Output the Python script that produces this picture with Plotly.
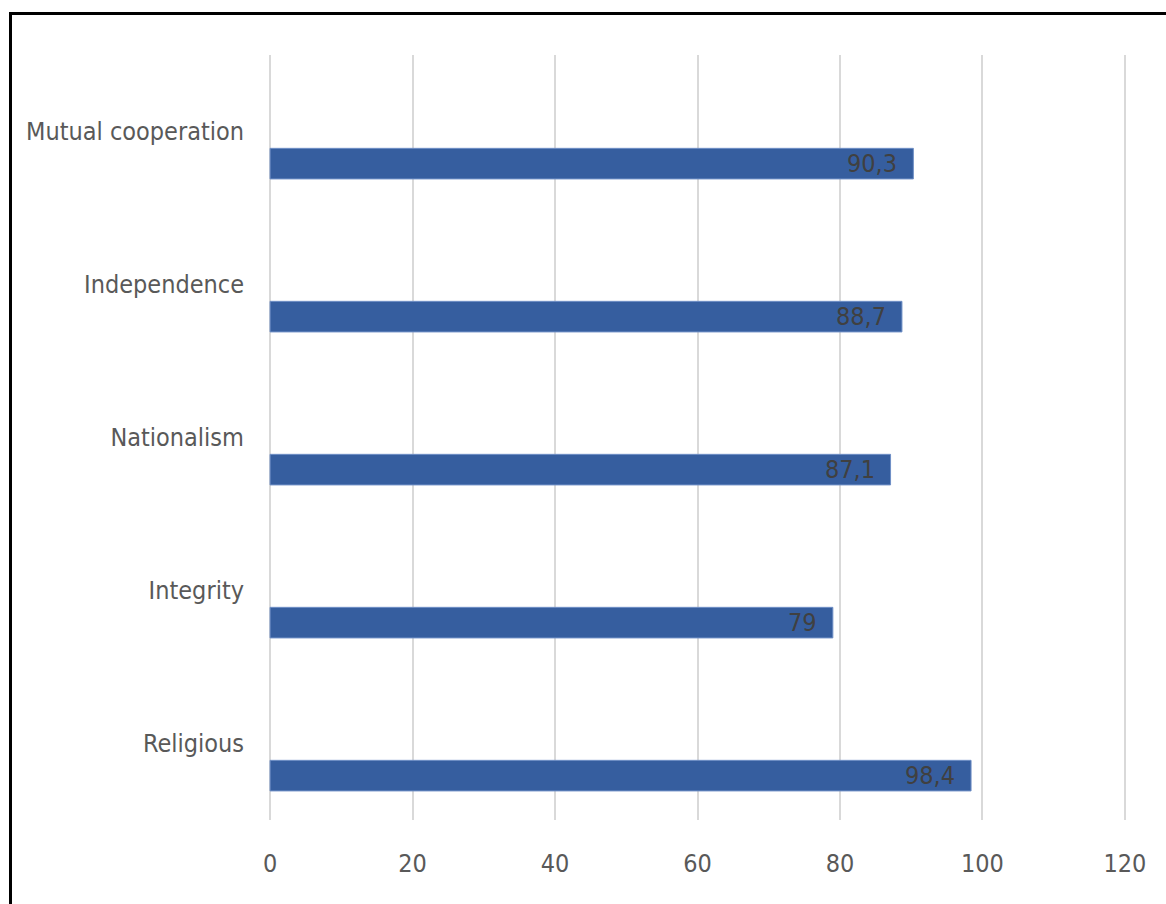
import plotly.graph_objects as go

# Values per category, listed bottom to top
categories = ["Religious", "Integrity", "Nationalism", "Independence", "Mutual cooperation"]
values = [98.4, 79, 87.1, 88.7, 90.3]
x_ticks = [0, 20, 40, 60, 80, 100, 120]

FONT = "Liberation Sans Narrow, DejaVu Sans Condensed, Arial Narrow, sans-serif"
FONT_SIZE = 25
BAR_COLOR = "#365E9F"
BAR_WIDTH = 0.2
BAR_SHIFT = -0.21  # bar centre sits below the category label

labels = [f"{v:g}".replace(".", ",") for v in values]

fig = go.Figure()
fig.add_trace(go.Bar(
    x=values,
    y=categories,
    orientation="h",
    width=BAR_WIDTH,
    offset=BAR_SHIFT - BAR_WIDTH / 2,
    marker=dict(color=BAR_COLOR, line=dict(color="#6f8fc6", width=1)),
    hoverinfo="x+y",
))

# value labels inside the end of each bar
for i, (v, t) in enumerate(zip(values, labels)):
    fig.add_annotation(
        x=v, y=i + BAR_SHIFT, text=t, showarrow=False,
        xanchor="right", yanchor="middle", xshift=-14,
        font=dict(family=FONT, size=FONT_SIZE, color="#404040"),
    )

# chart frame
fig.add_shape(
    type="rect", xref="paper", yref="paper",
    x0=(10.5 - 269) / 857, x1=(1180 - 269) / 857,
    y0=(820 - 920) / 765, y1=(820 - 13.5) / 765,
    line=dict(color="black", width=3), fillcolor="rgba(0,0,0,0)",
    layer="above",
)

fig.update_layout(
    width=1166, height=904,
    margin=dict(l=269, r=40, t=55, b=84, autoexpand=False),
    paper_bgcolor="white", plot_bgcolor="white",
    showlegend=False,
    font=dict(family=FONT, size=FONT_SIZE, color="#595959"),
    xaxis=dict(
        range=[-0.15, 120.15], tickvals=x_ticks, showgrid=True,
        gridcolor="#d9d9d9", gridwidth=1.5, zeroline=False,
        showline=False, ticks="", ticklabelstandoff=26, automargin=False,
        tickfont=dict(family=FONT, size=FONT_SIZE, color="#595959"),
    ),
    yaxis=dict(
        type="category", categoryarray=categories, range=[-0.5, 4.5],
        showgrid=False, zeroline=False, showline=False, ticks="",
        ticklabelstandoff=24, automargin=False,
        tickfont=dict(family=FONT, size=FONT_SIZE, color="#595959"),
    ),
)

fig.write_html("out.html")
